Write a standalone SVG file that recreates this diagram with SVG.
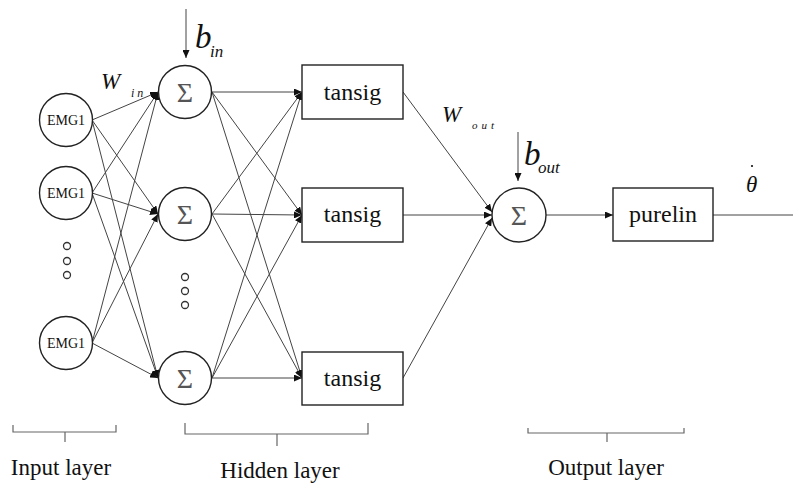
<svg xmlns="http://www.w3.org/2000/svg" width="793" height="483" viewBox="0 0 793 483">
<style>
.node{fill:#fff;stroke:#222;stroke-width:1.4}
.dot{fill:#fff;stroke:#333;stroke-width:1.3}
.c{stroke:#444;stroke-width:1;fill:none}
.br{stroke:#666;stroke-width:1.2;fill:none}
text{font-family:'Liberation Serif','DejaVu Serif',serif;fill:#111}
.emg{font-size:14px;text-anchor:middle}
.sig{font-size:28px;text-anchor:middle;fill:#555}
.box{font-size:24px;text-anchor:middle}
.lab{font-size:23px;text-anchor:middle}
.it{font-style:italic}
</style>
<defs>
<marker id="ah" markerUnits="userSpaceOnUse" markerWidth="9" markerHeight="7" refX="8" refY="3.5" orient="auto">
<path d="M0,0 L8,3.5 L0,7 z" fill="#111"/>
</marker>
</defs>
<g id="connectors" class="c" marker-end="url(#ah)">
<line x1="92" y1="120" x2="158" y2="92"/>
<line x1="92" y1="120" x2="158" y2="214"/>
<line x1="92" y1="120" x2="158" y2="378"/>
<line x1="92" y1="193" x2="158" y2="92"/>
<line x1="92" y1="193" x2="158" y2="214"/>
<line x1="92" y1="193" x2="158" y2="378"/>
<line x1="92" y1="343" x2="158" y2="92"/>
<line x1="92" y1="343" x2="158" y2="214"/>
<line x1="92" y1="343" x2="158" y2="378"/>
<line x1="212" y1="92" x2="302" y2="92"/>
<line x1="212" y1="92" x2="302" y2="215"/>
<line x1="212" y1="92" x2="302" y2="378"/>
<line x1="212" y1="214" x2="302" y2="92"/>
<line x1="212" y1="214" x2="302" y2="215"/>
<line x1="212" y1="214" x2="302" y2="378"/>
<line x1="212" y1="378" x2="302" y2="92"/>
<line x1="212" y1="378" x2="302" y2="215"/>
<line x1="212" y1="378" x2="302" y2="378"/>
<line x1="403" y1="92" x2="492" y2="212"/>
<line x1="403" y1="215" x2="492" y2="215"/>
<line x1="403" y1="378" x2="492" y2="218"/>
<line x1="546" y1="215" x2="613" y2="215"/>
<line x1="186" y1="9" x2="186" y2="58"/>
<line x1="518" y1="132" x2="518" y2="181"/>
<line x1="713" y1="215" x2="793" y2="215" marker-end="none"/>
</g>
<g id="in1"><circle class="node" cx="66" cy="120" r="26.5"/><text class="emg" x="66" y="125">EMG1</text></g>
<g id="in2"><circle class="node" cx="66" cy="193" r="26.5"/><text class="emg" x="66" y="198">EMG1</text></g>
<g id="in3"><circle class="node" cx="66" cy="343" r="26.5"/><text class="emg" x="66" y="348">EMG1</text></g>
<g id="in-dots"><circle class="dot" cx="67" cy="246" r="3.5"/><circle class="dot" cx="67" cy="261" r="3.5"/><circle class="dot" cx="67" cy="275" r="3.5"/></g>
<g id="h1"><circle class="node" cx="185" cy="92" r="26.5"/><text class="sig" x="185" y="102">Σ</text></g>
<g id="h2"><circle class="node" cx="185" cy="214" r="26.5"/><text class="sig" x="185" y="224">Σ</text></g>
<g id="h3"><circle class="node" cx="185" cy="378" r="26.5"/><text class="sig" x="185" y="388">Σ</text></g>
<g id="h-dots"><circle class="dot" cx="185" cy="277" r="3.5"/><circle class="dot" cx="185" cy="291" r="3.5"/><circle class="dot" cx="185" cy="305" r="3.5"/></g>
<g id="tansig1"><rect class="node" x="302" y="65" width="101" height="54"/><text class="box" x="352.5" y="100">tansig</text></g>
<g id="tansig2"><rect class="node" x="302" y="188" width="101" height="54"/><text class="box" x="352.5" y="222">tansig</text></g>
<g id="tansig3"><rect class="node" x="302" y="352" width="101" height="53"/><text class="box" x="352.5" y="386">tansig</text></g>
<g id="out-sum"><circle class="node" cx="519" cy="215" r="27"/><text class="sig" x="519" y="225">Σ</text></g>
<g id="purelin"><rect class="node" x="613" y="188" width="100" height="53"/><text class="box" x="663" y="222">purelin</text></g>
<g id="labels">
<text class="it" x="195" y="48" font-size="33">b</text>
<text class="it" x="210" y="57" font-size="17">in</text>
<text class="it" x="101" y="89" font-size="23">W</text>
<text class="it" x="131" y="97" font-size="12" letter-spacing="3">in</text>
<text class="it" x="442" y="122" font-size="23">W</text>
<text class="it" x="472" y="129" font-size="11" letter-spacing="4">out</text>
<text class="it" x="524" y="165" font-size="33">b</text>
<text class="it" x="538" y="173" font-size="17">out</text>
<text class="it" x="746" y="192" font-size="23">θ</text>
<circle cx="752" cy="166" r="1.1" fill="#111"/>
</g>
<g id="brackets" class="br">
<path d="M13,425 V432 H116 V425 M65,432 V442"/>
<path d="M185,423 V434 H368 V423 M277,434 V446"/>
<path d="M528,428 V433 H684 V428 M607,433 V442"/>
</g>
<g id="layer-labels">
<text class="lab" x="61" y="475">Input layer</text>
<text class="lab" x="280" y="478">Hidden layer</text>
<text class="lab" x="606" y="475">Output layer</text>
</g>
</svg>
